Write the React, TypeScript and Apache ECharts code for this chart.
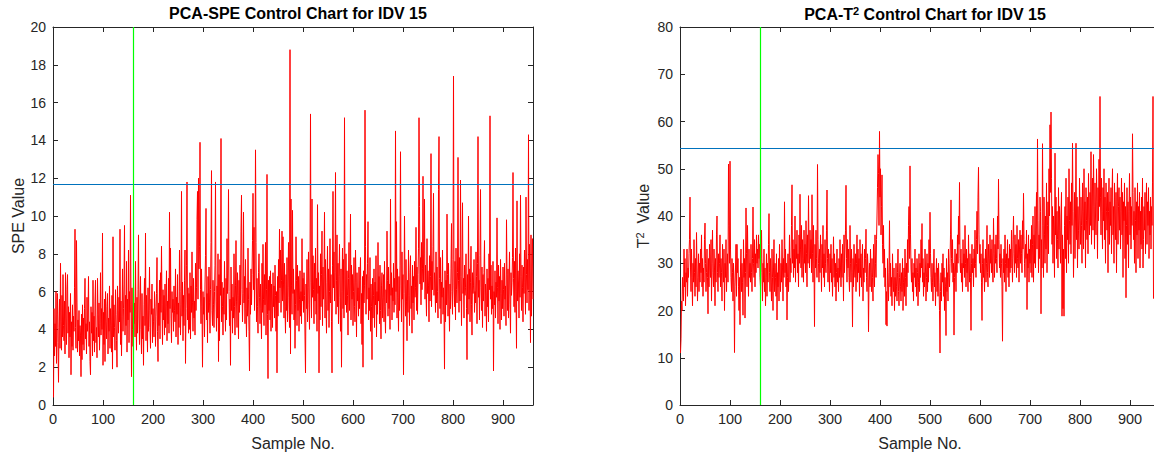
import React, { useEffect, useRef } from "react";
import * as echarts from "echarts";

// SPE statistic, samples 1..960 (20 per row)
const speValues = [
  0.4, 5.1, 2.6, 4.3, 3.1, 6.0, 2.2, 4.8, 5.9, 3.3, 1.2, 4.1, 5.6, 3.0, 7.5, 4.4, 2.9, 5.8, 3.6, 6.9,
  4.2, 3.4, 5.5, 2.7, 7.0, 4.6, 3.2, 6.1, 6.9, 3.8, 5.2, 2.5, 4.9, 3.6, 5.9, 1.6, 4.4, 3.1, 5.3, 2.9,
  4.7, 3.9, 6.2, 9.3, 4.1, 3.0, 8.7, 5.4, 2.8, 4.5, 3.4, 5.0, 2.6, 4.2, 3.7, 1.5, 4.8, 2.4, 5.3, 3.2,
  4.6, 2.9, 5.1, 6.7, 3.5, 4.3, 2.7, 5.7, 3.9, 4.6, 6.8, 3.1, 4.4, 2.3, 1.6, 5.2, 3.8, 4.9, 2.6, 6.6,
  3.4, 4.7, 2.8, 5.5, 6.6, 3.3, 4.1, 2.5, 6.7, 4.8, 3.6, 5.4, 2.9, 4.3, 7.0, 3.7, 5.1, 4.0, 9.1, 2.1,
  4.9, 3.2, 5.6, 2.3, 6.0, 4.4, 3.5, 5.2, 5.9, 2.7, 4.6, 3.9, 6.3, 3.0, 5.1, 4.2, 2.8, 5.8, 1.9, 8.9,
  3.6, 5.3, 4.1, 2.9, 6.1, 4.8, 3.4, 2.0, 6.3, 5.0, 3.8, 5.7, 4.4, 9.3, 3.2, 5.5, 2.6, 4.7, 7.2, 3.9,
  5.1, 6.4, 9.5, 3.7, 5.8, 4.2, 7.6, 2.8, 5.6, 4.5, 8.2, 3.3, 6.0, 4.9, 11.1, 5.3, 1.5, 6.2, 4.0, 3.1,
  6.5, 4.3, 5.4, 3.6, 7.6, 4.8, 2.9, 5.7, 3.8, 6.1, 9.0, 4.6, 3.2, 5.5, 6.8, 4.0, 2.7, 5.9, 3.5, 4.7,
  2.1, 5.3, 6.7, 4.2, 9.1, 3.4, 5.8, 4.5, 2.8, 6.2, 3.9, 5.0, 7.3, 4.1, 3.0, 5.6, 4.8, 6.4, 3.3, 5.1,
  4.4, 3.6, 6.0, 5.2, 3.1, 4.7, 5.9, 7.8, 3.9, 2.3, 5.4, 4.2, 6.6, 3.5, 7.0, 4.9, 8.4, 5.3, 3.2, 6.1,
  4.5, 5.8, 3.7, 6.4, 4.1, 5.2, 7.1, 3.4, 5.5, 4.3, 6.7, 3.8, 10.2, 5.1, 8.3, 4.6, 3.3, 6.0, 4.9, 5.6,
  3.9, 6.3, 5.0, 4.4, 7.2, 3.6, 5.7, 4.8, 6.9, 3.2, 5.4, 4.1, 8.2, 6.0, 3.7, 5.3, 11.3, 4.7, 6.5, 3.4,
  5.8, 4.2, 6.6, 8.2, 2.2, 5.1, 7.4, 11.8, 4.5, 6.2, 3.8, 5.9, 4.0, 7.0, 3.5, 6.3, 4.9, 8.1, 5.4, 3.9,
  6.7, 4.6, 5.5, 3.7, 7.5, 5.0, 6.2, 9.8, 11.3, 5.6, 12.0, 7.2, 8.4, 13.9, 6.1, 4.3, 7.2, 5.2, 2.0, 6.0,
  4.8, 5.7, 3.6, 6.4, 7.9, 10.4, 4.5, 5.9, 3.3, 6.8, 4.9, 7.3, 5.4, 3.8, 6.1, 8.6, 12.4, 5.0, 4.2, 6.6,
  5.3, 4.1, 6.0, 7.4, 11.8, 5.5, 3.9, 6.3, 4.6, 8.0, 2.3, 6.9, 3.4, 7.7, 5.8, 14.1, 4.4, 6.5, 5.2, 3.7,
  6.2, 4.8, 7.6, 5.3, 3.9, 6.7, 4.5, 8.8, 5.9, 7.1, 11.4, 6.0, 4.2, 5.6, 2.1, 7.3, 5.0, 6.4, 3.8, 5.7,
  4.6, 8.0, 5.2, 3.7, 6.3, 8.7, 5.5, 4.1, 7.0, 5.8, 3.5, 6.6, 4.9, 7.4, 5.3, 9.2, 11.1, 6.1, 4.4, 5.9,
  10.2, 5.4, 6.8, 4.3, 7.7, 5.1, 3.6, 6.2, 4.7, 8.3, 5.6, 3.9, 1.8, 6.5, 4.8, 7.2, 5.3, 6.9, 8.7, 11.2,
  6.1, 9.4, 5.0, 7.3, 13.5, 8.6, 4.4, 6.7, 5.2, 3.8, 7.0, 8.0, 5.7, 4.3, 6.4, 5.1, 3.5, 7.5, 4.9, 8.5,
  5.6, 4.2, 6.9, 5.3, 8.6, 3.7, 6.1, 12.2, 4.8, 1.4, 6.6, 5.0, 6.8, 4.5, 7.1, 3.9, 6.4, 5.5, 4.1, 7.0,
  5.2, 6.3, 4.6, 7.4, 5.8, 3.9, 6.0, 1.7, 6.8, 4.7, 7.7, 5.4, 9.3, 6.2, 8.2, 4.9, 6.6, 9.2, 5.5, 8.9,
  6.4, 4.6, 7.5, 5.2, 3.8, 6.9, 5.0, 7.8, 4.4, 6.2, 8.6, 5.7, 4.1, 18.8, 2.7, 10.9, 6.3, 4.8, 10.3, 5.9,
  7.2, 4.5, 6.1, 3.0, 5.3, 8.9, 6.6, 4.2, 7.4, 5.0, 6.8, 3.9, 5.6, 7.1, 4.7, 6.0, 4.3, 8.8, 5.5, 6.7,
  4.9, 7.0, 5.8, 3.6, 1.7, 6.4, 5.1, 7.7, 4.4, 6.2, 8.1, 5.3, 4.0, 7.3, 15.4, 6.5, 4.6, 10.9, 5.7, 7.9,
  6.1, 4.3, 7.5, 5.5, 8.3, 4.8, 6.7, 3.9, 10.6, 5.9, 7.0, 1.7, 6.3, 4.5, 8.0, 5.2, 6.9, 9.2, 4.2, 7.3,
  5.6, 6.8, 10.2, 4.6, 7.7, 5.3, 3.8, 6.5, 8.4, 5.0, 7.2, 4.1, 6.0, 8.8, 5.4, 6.9, 4.4, 1.7, 7.4, 11.3,
  6.2, 8.1, 5.5, 7.0, 12.3, 4.8, 6.6, 9.0, 5.2, 7.5, 4.3, 6.8, 8.5, 5.7, 3.9, 7.2, 2.0, 6.0, 8.3, 5.1,
  7.7, 4.6, 15.2, 6.4, 5.3, 8.0, 4.9, 7.1, 5.8, 3.7, 6.7, 8.6, 5.0, 6.3, 10.1, 4.5, 7.4, 5.6, 6.9, 4.2,
  6.0, 7.8, 5.2, 4.4, 8.2, 6.5, 3.6, 7.0, 5.5, 6.2, 4.7, 7.3, 5.1, 6.6, 7.8, 4.3, 5.9, 3.2, 6.8, 2.0,
  7.1, 5.4, 6.3, 15.6, 8.4, 4.8, 6.9, 5.6, 7.5, 9.7, 4.5, 6.2, 5.0, 7.8, 3.9, 6.4, 5.2, 2.4, 6.7, 4.6,
  5.8, 7.2, 4.1, 6.5, 5.3, 7.9, 3.6, 6.0, 4.8, 8.6, 5.5, 6.8, 4.3, 7.4, 5.0, 3.5, 6.3, 7.0, 4.6, 5.7,
  6.9, 4.4, 7.6, 5.2, 3.8, 6.1, 5.4, 9.2, 6.6, 4.7, 7.3, 5.1, 6.4, 4.0, 10.9, 5.8, 7.0, 4.5, 6.2, 5.5,
  7.5, 4.9, 6.7, 5.3, 14.5, 6.0, 9.7, 4.6, 7.2, 5.7, 3.9, 6.8, 5.0, 7.4, 13.4, 6.3, 4.4, 8.1, 5.6, 6.9,
  1.6, 5.9, 10.0, 6.4, 4.7, 7.7, 5.5, 3.4, 6.6, 4.9, 8.2, 5.8, 4.2, 7.0, 7.9, 5.1, 6.3, 3.8, 7.4, 5.4,
  6.8, 4.5, 7.6, 5.7, 6.2, 9.4, 5.0, 7.3, 4.8, 6.9, 8.3, 15.2, 10.5, 6.4, 7.8, 5.3, 8.6, 6.1, 7.2, 12.1,
  6.5, 8.0, 10.9, 5.6, 7.4, 6.0, 4.7, 8.8, 5.9, 7.1, 6.3, 4.4, 7.9, 5.5, 6.8, 13.3, 5.2, 7.6, 6.1, 8.4,
  11.2, 5.8, 7.0, 6.4, 4.9, 8.1, 5.4, 7.3, 6.0, 4.6, 11.4, 14.2, 6.7, 5.1, 7.8, 4.3, 6.5, 5.7, 8.2, 4.8,
  6.2, 5.0, 1.9, 7.1, 4.4, 6.6, 5.3, 10.1, 6.9, 4.7, 7.5, 5.6, 3.9, 6.4, 5.1, 7.2, 9.6, 6.0, 4.8, 7.7,
  17.4, 6.3, 5.2, 7.6, 4.5, 8.3, 6.1, 5.4, 7.0, 13.1, 6.6, 4.9, 7.8, 5.5, 11.9, 6.8, 4.2, 7.3, 10.7, 5.9,
  6.7, 4.6, 7.4, 5.8, 6.2, 8.0, 5.1, 2.4, 6.9, 4.8, 10.0, 5.6, 7.2, 4.4, 6.5, 8.4, 5.3, 3.7, 7.0, 5.9,
  6.3, 7.7, 4.9, 6.0, 5.4, 8.1, 6.8, 4.3, 7.5, 14.2, 5.7, 6.6, 4.5, 7.9, 11.4, 6.2, 5.0, 7.3, 4.1, 6.9,
  5.5, 7.0, 8.7, 4.7, 6.4, 5.8, 3.9, 7.2, 5.2, 6.7, 4.4, 8.0, 6.1, 15.3, 5.6, 7.4, 4.8, 6.3, 5.1, 7.6,
  1.8, 6.0, 5.3, 7.1, 4.6, 6.5, 5.7, 9.9, 6.2, 4.3, 7.4, 5.5, 6.8, 4.0, 7.7, 5.9, 4.5, 6.6, 5.1, 7.3,
  6.1, 4.7, 7.5, 5.6, 6.3, 4.2, 9.8, 6.9, 5.0, 7.2, 4.6, 6.4, 8.1, 5.3, 3.8, 7.0, 5.8, 6.5, 7.8, 12.3,
  6.7, 5.2, 7.6, 4.9, 8.3, 6.0, 3.0, 10.8, 5.5, 7.1, 6.4, 4.6, 8.0, 5.7, 11.1, 6.8, 5.0, 7.4, 6.2, 4.4,
  7.3, 5.9, 8.2, 6.5, 4.8, 11.0, 6.9, 5.4, 7.7, 6.1, 14.3, 5.0, 8.5, 6.6, 3.3, 9.0, 4.7, 7.2, 8.8, 5.6,
];

// T^2 statistic, samples 1..947 (the picture is cut at its right edge)
const t2Values = [
  11, 14, 22, 20, 27, 24, 22, 33, 25, 31, 21, 28, 26, 33, 23, 29, 27, 32, 35, 44,
  29, 24, 33, 27, 21, 30, 26, 35, 28, 23, 31, 25, 36.5, 29, 22, 27, 32, 24, 30, 26,
  33, 28, 36, 25, 31, 23, 29, 26, 35, 38.5, 30, 24, 28, 33, 27, 19.3, 31, 25, 34, 29,
  27, 35, 22, 30, 37, 28, 25, 33, 29, 21, 31, 26, 36, 40, 28, 24, 32, 27, 30, 36,
  25, 31, 28, 22, 34, 29, 26, 33, 20, 30, 27, 35, 24, 29, 32, 26, 51, 38, 30, 51.6,
  33, 27, 24, 31, 28, 22, 30, 26, 11.1, 25, 29, 34, 23, 34, 28, 31, 25, 20, 27, 17,
  29, 33, 24, 30, 26, 19, 35, 27, 31, 18.4, 28, 41.7, 32, 25, 38, 29, 23, 33, 27, 30,
  26, 34, 28, 24, 31, 41.9, 30, 27, 35, 25, 32, 28, 36, 30, 33, 29, 36, 31, 34, 27,
  25, 31, 37, 28, 22, 30, 26, 33, 24, 29, 21, 27, 32, 23, 30, 26, 34, 40.5, 28, 24,
  31, 26, 22, 33, 27, 20, 29, 35, 24, 30, 27, 23, 32, 18, 28, 25, 31, 22, 34, 27,
  24, 30, 26, 35, 29, 22, 31, 27, 43, 28, 33, 25, 30, 18, 27, 32, 24, 29, 36, 26,
  31, 28, 38, 46.6, 30, 35, 27, 33, 29, 40, 26, 34, 31, 37, 28, 32, 25, 36, 30, 44.6,
  33, 29, 38, 27, 35, 31, 26, 37, 30, 34, 28, 39, 32, 25, 36, 30, 44.3, 33, 29, 37,
  31, 35, 28, 44.5, 32, 26, 38, 30, 16.6, 34, 29, 37, 31, 27, 50.9, 35, 30, 26, 33, 28,
  36, 31, 24, 34, 29, 38, 27, 32, 25, 35, 30, 28, 37, 45.5, 31, 26, 33, 29, 24, 32,
  28, 34, 26, 31, 23, 29, 35.6, 27, 32, 25, 30, 22, 28, 33, 26, 29, 24, 31, 27, 35,
  29, 25, 32, 27, 34, 30, 22, 36, 28, 33, 37, 46.5, 31, 26, 35, 29, 33, 27, 24, 38,
  30, 26, 33, 28, 16.5, 31, 25, 34, 29, 27, 32, 24, 30, 36, 26, 33, 28, 31, 23, 35,
  27, 32, 25, 30, 34, 22, 29, 26, 33, 28, 31, 37.2, 27, 24, 32, 29, 15.5, 26, 30, 25,
  33, 28, 24, 31, 27, 22, 34, 29, 25, 36, 30, 27, 35, 40, 46, 53, 49, 38, 57.9, 44,
  50, 36, 42, 48.7, 34, 30, 38, 27, 33, 25, 29, 17, 24, 16.7, 31, 26, 22, 28, 39, 25,
  30, 23, 27, 21, 32, 26, 24, 29, 20, 27, 23, 30, 25, 22, 28, 33, 24, 21, 27, 30,
  25, 22, 28, 24, 31, 20, 26, 29, 23, 33, 27, 21, 30, 25, 35, 28, 38, 42, 31, 50.6,
  36, 29, 26, 31, 24, 28, 22, 30, 27, 33, 25, 29, 23, 31, 28, 21, 26, 32, 24, 30,
  27, 35, 29, 38.4, 26, 31, 23, 28, 25, 33, 29, 22, 27, 32, 24, 30, 26, 35, 29, 40.8,
  32, 27, 24, 30, 26, 22, 29, 33, 25, 28, 21, 27, 31, 24, 29, 23, 30, 26, 20, 11,
  24, 28, 22, 30, 26, 32, 23, 29, 20, 27, 25, 14.7, 31, 24, 28, 22, 33, 27, 25, 30,
  36, 43.4, 31, 28, 35, 26, 30, 14.8, 27, 33, 29, 24, 32, 28, 36, 30, 40, 34, 47.1, 31,
  28, 33, 26, 30, 24, 35, 29, 32, 27, 38, 30, 25, 33, 28, 31, 24, 36, 29, 26, 32,
  27, 15.8, 30, 34, 28, 31, 25, 33, 29, 37, 30, 27, 35, 41, 32, 44, 50.3, 36, 30, 34,
  28, 32, 26, 17.9, 30, 35, 27, 31, 24, 29, 33, 26, 30, 38, 28, 25, 34, 31, 27, 36,
  30, 33, 28, 35, 29, 26, 39.5, 32, 27, 34, 30, 36, 31, 28, 40, 33, 47.8, 35, 29, 32,
  27, 34, 30, 25, 13.5, 31, 28, 33, 26, 36, 30, 24, 32, 29, 35, 27, 31, 25, 34, 28,
  33, 29, 37, 31, 26, 35, 40, 32, 28, 36, 30, 34, 27, 38, 31, 29, 35, 26, 33, 37,
  30, 36, 32, 28, 39, 33, 44.8, 35, 30, 27, 34, 31, 37, 20.2, 32, 29, 36, 26, 33, 30,
  35, 28, 38, 27, 34, 40, 26, 36, 30, 42, 29, 37, 45, 33, 56.3, 39, 28, 36, 31, 44,
  41, 19.3, 35, 29, 55.3, 38, 27, 44, 36, 30, 40, 33, 47, 28, 38, 43, 32, 50, 40, 59.3,
  45, 62, 48, 34, 42, 30, 40, 37, 27, 53.3, 36, 44, 31, 41, 35, 29, 46, 33, 42, 37,
  30, 40, 45, 18.8, 36, 20.4, 33, 18.8, 38, 42, 31, 48, 28, 40, 35, 44, 30, 50, 39, 34,
  43, 32, 47, 38, 55.4, 41, 27, 36, 45, 31, 40, 55.4, 35, 44, 29, 42, 37, 33, 48, 39,
  34, 44, 38, 30, 47, 41, 33, 50, 37, 43, 29, 46, 39, 35, 44, 32, 49, 40, 36, 45,
  38, 53.6, 34, 44, 48, 37, 53, 42, 33, 47, 40, 36, 50, 43, 31, 46, 39, 52, 42, 65.3,
  44, 36, 48, 41, 33, 46, 39, 50, 35, 44, 30, 47, 41, 37, 45, 28, 41, 48, 34, 43,
  38, 46, 32, 44, 50, 36, 42, 30, 47, 40, 35, 45, 28, 43, 49, 34, 42, 46, 37, 44,
  33, 41, 48, 36, 45, 27, 43, 39, 47, 31, 42, 22.7, 38, 46, 34, 43, 29, 41, 49, 36,
  44, 33, 42, 38, 57.4, 45, 35, 41, 30, 46, 39, 28, 43, 36, 47, 31, 42, 37, 45, 29,
  41, 34, 44, 33, 48, 29, 35, 42, 37, 45, 32, 40, 47, 34, 43, 38, 46, 31, 41, 36,
  44, 33, 42, 38, 47, 65.3, 22.5,
];

const speLimit = 11.67;
const t2Limit = 54.3;
const faultSample = 160;
const sampleMax = 960;
const speAxis = { min: 0, max: 20, interval: 2 };
const t2Axis = { min: 0, max: 80, interval: 10 };
const titles = ["PCA-SPE Control Chart for IDV 15", "PCA-T{sup|2} Control Chart for IDV 15"];
const yNames = ["SPE Value", "T{sup|2}  Value"];
const xName = "Sample No.";

const FONT = "'Liberation Sans', Arial, Helvetica, sans-serif";
const AX = "#262626";

export default function App() {
  const ref = useRef<HTMLDivElement>(null);

  useEffect(() => {
    if (!ref.current) return;
    const chart = echarts.init(ref.current, null, { renderer: "svg" });

    const grids = [
      { left: 53, top: 27, width: 480, height: 378 },
      { left: 680, top: 27, width: 480, height: 378 },
    ];

    const xAxes: any[] = [];
    const yAxes: any[] = [];
    const yRanges = [speAxis, t2Axis];
    [0, 1].forEach((gi) => {
      [true, false].forEach((bottom) => {
        xAxes.push({
          type: "value",
          gridIndex: gi,
          min: 0,
          max: sampleMax,
          interval: 100,
          position: bottom ? "bottom" : "top",
          axisLine: { show: true, onZero: false, lineStyle: { color: AX, width: 1 } },
          axisTick: { show: true, inside: true, length: 5, lineStyle: { color: AX, width: 1 } },
          axisLabel: {
            show: bottom,
            color: AX,
            fontSize: 14.5,
            fontFamily: FONT,
            margin: 6,
            showMaxLabel: false,
          },
          splitLine: { show: false },
          name: bottom ? xName : "",
          nameLocation: "middle",
          nameGap: 30,
          nameTextStyle: { color: AX, fontSize: 16, fontFamily: FONT },
        });
      });
      [true, false].forEach((left) => {
        const r = yRanges[gi];
        yAxes.push({
          type: "value",
          gridIndex: gi,
          min: r.min,
          max: r.max,
          interval: r.interval,
          position: left ? "left" : "right",
          axisLine: { show: true, onZero: false, lineStyle: { color: AX, width: 1 } },
          axisTick: { show: true, inside: true, length: 5, lineStyle: { color: AX, width: 1 } },
          axisLabel: { show: left, color: AX, fontSize: 14, fontFamily: FONT, margin: 7 },
          splitLine: { show: false },
          name: left ? yNames[gi] : "",
          nameLocation: "middle",
          nameGap: gi === 0 ? 23 : 27,
          nameRotate: 90,
          nameTextStyle: {
            color: AX,
            fontSize: 16,
            fontFamily: FONT,
            rich: {
              sup: { fontSize: 11, fontFamily: FONT, color: AX, verticalAlign: "bottom", padding: [0, 0, 8, 0] },
            },
          },
        });
      });
    });

    const mkSeries = (values: number[], gi: number, limit: number) => ({
      type: "line",
      xAxisIndex: gi * 2,
      yAxisIndex: gi * 2,
      data: values.map((v, i) => [i + 1, v]),
      showSymbol: false,
      symbol: "none",
      lineStyle: { color: "#FF0000", width: 1 },
      itemStyle: { color: "#FF0000" },
      clip: true,
      markLine: {
        silent: true,
        symbol: ["none", "none"],
        label: { show: false },
        animation: false,
        data: [
          { yAxis: limit, lineStyle: { color: "#0072BD", width: 1.2, type: "solid" } },
          { xAxis: faultSample, lineStyle: { color: "#00FF00", width: 1.2, type: "solid" } },
        ],
      },
    });

    chart.setOption({
      animation: false,
      backgroundColor: "#ffffff",
      title: [
        {
          text: titles[0],
          left: 293,
          top: 0,
          textAlign: "center",
          textStyle: { fontSize: 16, fontWeight: "bold", color: "#000", fontFamily: FONT },
        },
        {
          text: titles[1],
          left: 920,
          top: 0,
          textAlign: "center",
          textStyle: {
            fontSize: 16,
            fontWeight: "bold",
            color: "#000",
            fontFamily: FONT,
            rich: {
              sup: { fontSize: 11, fontWeight: "bold", color: "#000", fontFamily: FONT, verticalAlign: "bottom", padding: [0, 0, 8, 0] },
            },
          },
        },
      ],
      grid: grids,
      xAxis: xAxes,
      yAxis: yAxes,
      series: [mkSeries(speValues, 0, speLimit), mkSeries(t2Values, 1, t2Limit)],
    });

    return () => chart.dispose();
  }, []);

  return (
    <div
      style={{
        position: "fixed",
        left: 0,
        top: 0,
        width: 1154,
        height: 457,
        overflow: "hidden",
        background: "#fff",
      }}
    >
      <div ref={ref} style={{ width: 1170, height: 457 }} />
    </div>
  );
}
